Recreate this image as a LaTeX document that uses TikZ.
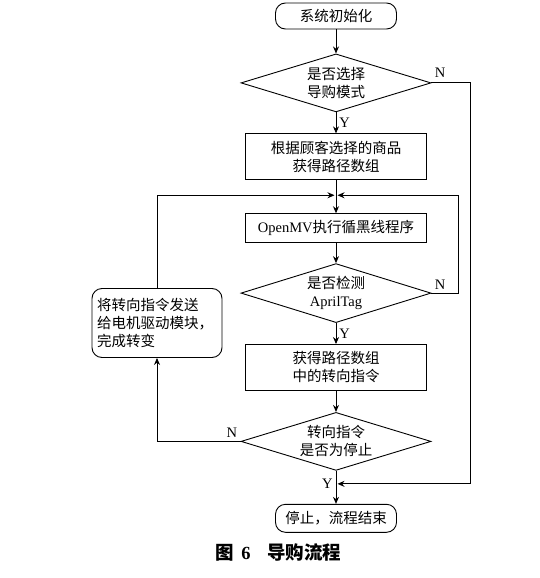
\documentclass[tikz,border=0pt]{standalone}
\usepackage{fontspec}
\setmainfont{Liberation Serif}
\newfontfamily\cjk{Noto Sans CJK SC}
\usetikzlibrary{positioning,shapes,arrows.meta}
\newcommand{\lat}[1]{{\rmfamily #1}}
\tikzstyle{process}=[rectangle, draw=black, line width=0.9pt, text centered, align=center, minimum width=181pt, minimum height=46pt, inner sep=2pt, font=\cjk\fontsize{14.5}{18}\selectfont]
\tikzstyle{terminal}=[process, rounded corners=10pt, minimum width=121pt, minimum height=26pt]
\tikzstyle{decision}=[process, diamond, aspect=3, minimum width=190pt, minimum height=58pt, inner sep=0pt]

\begin{document}
\begin{tikzpicture}[
        node distance = 21pt,
        line/.style={-{Stealth[length=7pt, width=6pt]}, line width=0.9pt},
        tag/.style={font=\fontsize{14.5}{16}\selectfont, inner sep=3pt},
      ]
      \useasboundingbox (0pt,0pt) rectangle (539pt,-578pt);
      \node (Start) [terminal] at (336pt,-16pt) {系统初始化};
      \node (ModeCheck) [decision, below=24pt of Start] {是否选择\\导购模式};
      \node (GetPath) [process, below=of ModeCheck] {根据顾客选择的商品\\获得路径数组};
      \node (LineFollow) [process, minimum height=29pt, below=33pt of GetPath] {\lat{OpenMV}执行循黑线程序};
      \node (TagCheck) [decision, minimum height=59pt, below=20pt of LineFollow] {是否检测\\\lat{AprilTag}};
      \node (GetTurn) [process, below=of TagCheck] {获得路径数组\\中的转向指令};
      \node (StopCheck) [decision, below=of GetTurn] {转向指令\\是否为停止};
      \node (Finish) [terminal, minimum height=28pt, below=33pt of StopCheck] {停止，流程结束};
      \node (SendTurn) [terminal, align=left, text width=120pt, minimum height=69pt, inner sep=5pt] at (157pt,-323pt)
            {将转向指令发送\\给电机驱动模块，\\完成转变};
      \coordinate [below=15pt of GetPath] (Merge);
      \coordinate [below=13pt of StopCheck] (Join);
      \draw [line] (Start) -- (ModeCheck);
      \draw [line] (ModeCheck) -- node [tag, right] {Y} (GetPath);
      \draw [line] (GetPath) -- (LineFollow);
      \draw [line] (LineFollow) -- (TagCheck);
      \draw [line] (TagCheck) -- node [tag, right] {Y} (GetTurn);
      \draw [line] (GetTurn) -- (StopCheck);
      \draw [line] (StopCheck) -- node [tag, left, pos=0.4] {Y} (Finish);
      \draw [line, shorten >=1.5pt] (ModeCheck.east) node [tag, above right, yshift=2pt] {N} -- ++(39pt,0) |- (Join);
      \draw [line, shorten >=1.5pt] (TagCheck.east) node [tag, above right] {N} -- ++(27pt,0) |- (Merge);
      \draw [line] (StopCheck.west) node [tag, above left] {N} -| (SendTurn.south);
      \draw [line, shorten >=1.5pt] (SendTurn.north) |- (Merge);
      \node (Caption) [anchor=west, font=\cjk\bfseries\fontsize{18.5}{20}\selectfont] at (212pt,-552pt)
            {图\hspace{0.4em}\lat{\bfseries 6}\hspace{0.9em}导购流程};
    \end{tikzpicture}
\end{document}
